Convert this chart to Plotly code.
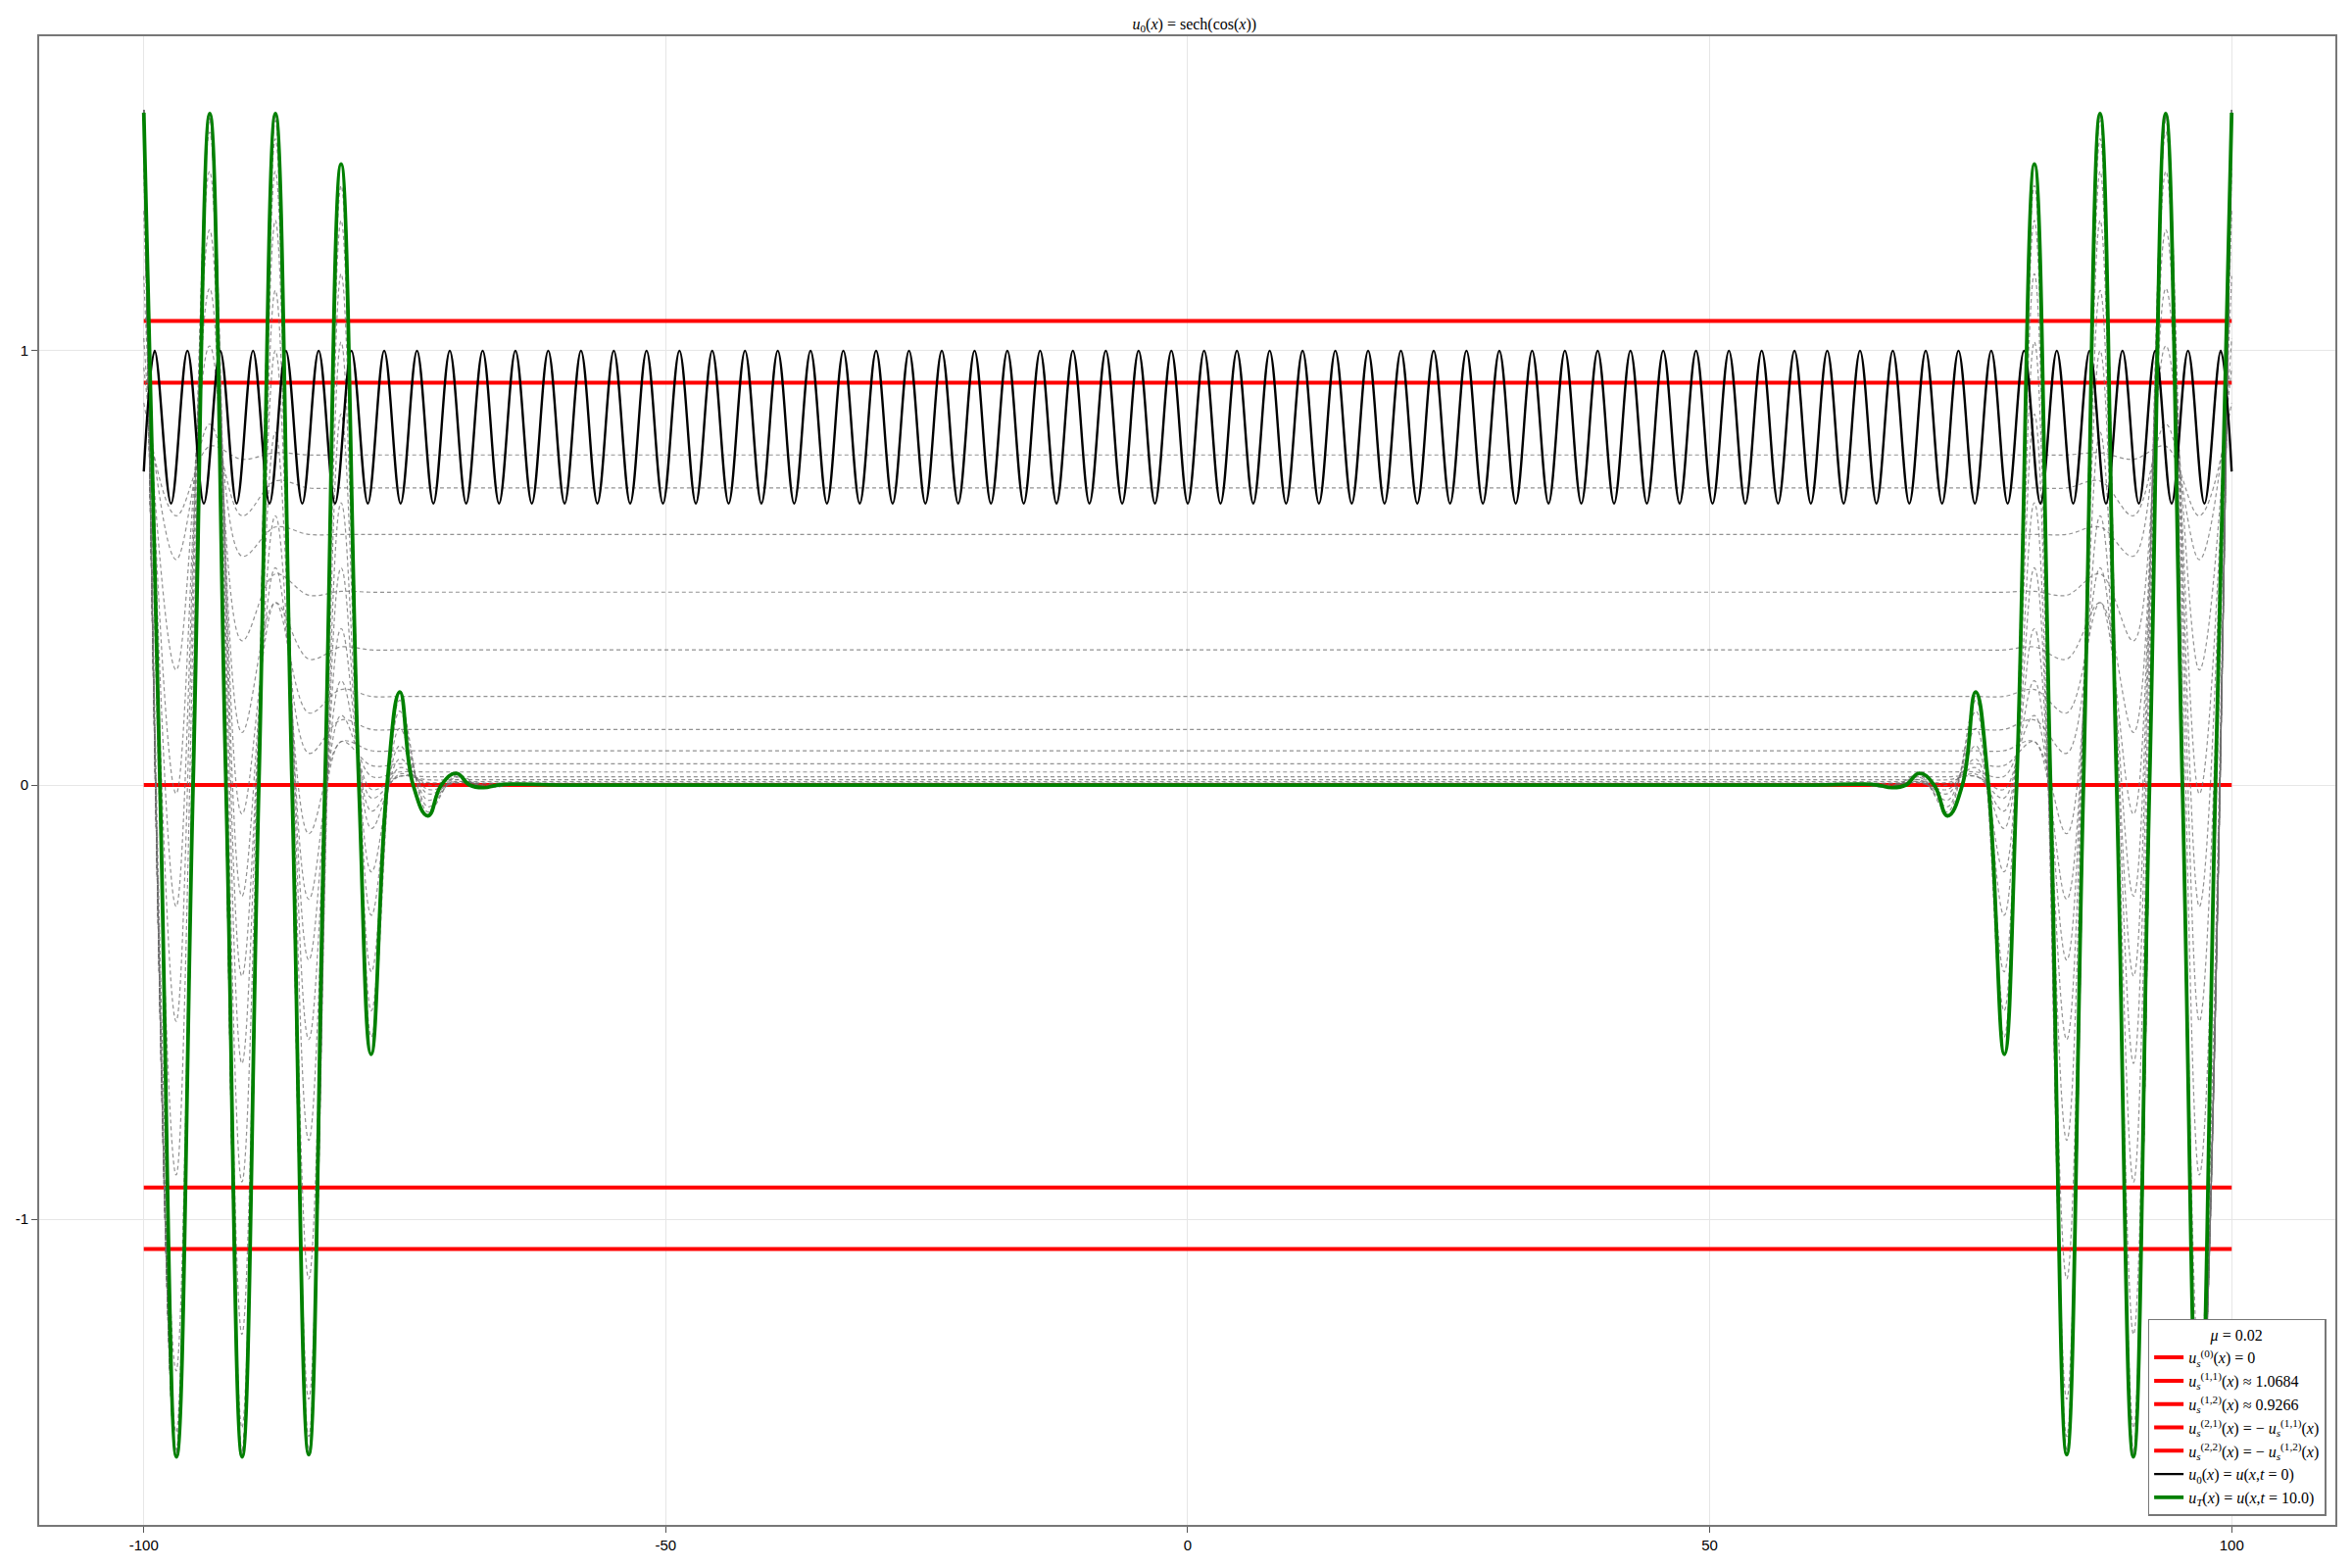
import plotly.graph_objects as go

# ---------------- data ----------------
# red steady states
red_levels = [0.0, 1.0684, 0.9266, -1.0684, -0.9266]
red_x = [-100, 100]
red_names = [
    "<i>u</i><sub><i>s</i></sub><sup>(0)</sup>(<i>x</i>) = 0",
    "<i>u</i><sub><i>s</i></sub><sup>(1,1)</sup>(<i>x</i>) ≈ 1.0684",
    "<i>u</i><sub><i>s</i></sub><sup>(1,2)</sup>(<i>x</i>) ≈ 0.9266",
    "<i>u</i><sub><i>s</i></sub><sup>(2,1)</sup>(<i>x</i>) = − <i>u</i><sub><i>s</i></sub><sup>(1,1)</sup>(<i>x</i>)",
    "<i>u</i><sub><i>s</i></sub><sup>(2,2)</sup>(<i>x</i>) = − <i>u</i><sub><i>s</i></sub><sup>(1,2)</sup>(<i>x</i>)",
]

# initial condition u0 (extrema)
black_x = [-100,
    -98.96, -97.39, -95.82, -94.25, -92.68, -91.11, -89.54, -87.96, -86.39, -84.82,
    -83.25, -81.68, -80.11, -78.54, -76.97, -75.40, -73.83, -72.26, -70.69, -69.12,
    -67.54, -65.97, -64.40, -62.83, -61.26, -59.69, -58.12, -56.55, -54.98, -53.41,
    -51.84, -50.27, -48.69, -47.12, -45.55, -43.98, -42.41, -40.84, -39.27, -37.70,
    -36.13, -34.56, -32.99, -31.42, -29.85, -28.27, -26.70, -25.13, -23.56, -21.99,
    -20.42, -18.85, -17.28, -15.71, -14.14, -12.57, -11.00, -9.42, -7.85, -6.28,
    -4.71, -3.14, -1.57, 0.0,
    1.57, 3.14, 4.71, 6.28, 7.85, 9.42, 11.00, 12.57, 14.14, 15.71,
    17.28, 18.85, 20.42, 21.99, 23.56, 25.13, 26.70, 28.27, 29.85, 31.42,
    32.99, 34.56, 36.13, 37.70, 39.27, 40.84, 42.41, 43.98, 45.55, 47.12,
    48.69, 50.27, 51.84, 53.41, 54.98, 56.55, 58.12, 59.69, 61.26, 62.83,
    64.40, 65.97, 67.54, 69.12, 70.69, 72.26, 73.83, 75.40, 76.97, 78.54,
    80.11, 81.68, 83.25, 84.82, 86.39, 87.96, 89.54, 91.11, 92.68, 94.25,
    95.82, 97.39, 98.96,
    100]
black_y = [0.722,
    1.0, 0.648, 1.0, 0.648, 1.0, 0.648, 1.0, 0.648, 1.0, 0.648,
    1.0, 0.648, 1.0, 0.648, 1.0, 0.648, 1.0, 0.648, 1.0, 0.648,
    1.0, 0.648, 1.0, 0.648, 1.0, 0.648, 1.0, 0.648, 1.0, 0.648,
    1.0, 0.648, 1.0, 0.648, 1.0, 0.648, 1.0, 0.648, 1.0, 0.648,
    1.0, 0.648, 1.0, 0.648, 1.0, 0.648, 1.0, 0.648, 1.0, 0.648,
    1.0, 0.648, 1.0, 0.648, 1.0, 0.648, 1.0, 0.648, 1.0, 0.648,
    1.0, 0.648, 1.0, 0.648,
    1.0, 0.648, 1.0, 0.648, 1.0, 0.648, 1.0, 0.648, 1.0, 0.648,
    1.0, 0.648, 1.0, 0.648, 1.0, 0.648, 1.0, 0.648, 1.0, 0.648,
    1.0, 0.648, 1.0, 0.648, 1.0, 0.648, 1.0, 0.648, 1.0, 0.648,
    1.0, 0.648, 1.0, 0.648, 1.0, 0.648, 1.0, 0.648, 1.0, 0.648,
    1.0, 0.648, 1.0, 0.648, 1.0, 0.648, 1.0, 0.648, 1.0, 0.648,
    1.0, 0.648, 1.0, 0.648, 1.0, 0.648, 1.0, 0.648, 1.0, 0.648,
    1.0, 0.648, 1.0,
    0.722]

# final state u_T (left half; the profile is mirror-symmetric)
green_x_left = [-100, -98.45, -96.87, -95.28, -93.68, -92.13, -90.58, -88.98, -87.39,
                -85.8, -84.2, -82.65, -81.1, -79.4, -78.22, -76.7, -75.47, -74.2,
                -72.78, -71.5, -70.06, -68.8, -67.46, -66.1, -64.5, -60, -40, -20, 0]
green_y_left = [1.548, 0, -1.547, 0, 1.546, 0, -1.547, 0, 1.546,
                0, -1.542, 0, 1.43, 0, -0.62, 0, 0.214, 0,
                -0.071, 0, 0.027, 0, -0.006, 0, 0.002, 0, 0, 0, 0]

# intermediate snapshots (left half knots, shared x)
gray_x_left = [-100, -96.9, -93.7, -90.6, -87.4, -84.2, -81.1, -78.2, -75.5,
               -72.8, -70.1, -67.5, -64.5, -60, -30, 0]
gray_01 = [0.88, 0.62, 0.78, 0.75, 0.765, 0.76, 0.76, 0.76, 0.76, 0.76, 0.76, 0.76, 0.76, 0.76, 0.76, 0.76]
gray_02 = [0.961, 0.519, 0.831, 0.62, 0.70, 0.684, 0.684, 0.684, 0.684, 0.684, 0.684, 0.684, 0.684, 0.684, 0.684, 0.684]
gray_03 = [1.029, 0.265, 1.011, 0.527, 0.594, 0.577, 0.577, 0.577, 0.577, 0.577, 0.577, 0.577, 0.577, 0.577, 0.577, 0.577]
gray_04 = [1.172, -0.02, 1.143, 0.332, 0.486, 0.437, 0.446, 0.444, 0.444, 0.444, 0.444, 0.444, 0.444, 0.444, 0.444, 0.444]
gray_05 = [1.322, -0.28, 1.278, 0.121, 0.42, 0.29, 0.318, 0.311, 0.311, 0.311, 0.311, 0.311, 0.311, 0.311, 0.311, 0.311]
gray_06 = [1.42, -0.544, 1.413, -0.067, 0.42, 0.166, 0.22, 0.204, 0.204, 0.204, 0.204, 0.204, 0.204, 0.204, 0.204, 0.204]
gray_07 = [1.488, -0.898, 1.503, -0.256, 0.50, 0.073, 0.15, 0.128, 0.128, 0.128, 0.128, 0.128, 0.128, 0.128, 0.128, 0.128]
gray_08 = [1.53, -1.349, 1.53, -0.44, 0.62, -0.112, 0.10, 0.079, 0.079, 0.079, 0.079, 0.079, 0.079, 0.079, 0.079, 0.079]
gray_09 = [1.555, -1.49, 1.546, -0.641, 0.812, -0.263, 0.10, 0.045, 0.049, 0.049, 0.049, 0.049, 0.049, 0.049, 0.049, 0.049]
gray_10 = [1.555, -1.53, 1.546, -0.914, 1.0, -0.403, 0.16, 0.02, 0.03, 0.03, 0.03, 0.03, 0.03, 0.03, 0.03, 0.03]
gray_11 = [1.555, -1.545, 1.546, -1.265, 1.139, -0.586, 0.24, -0.01, 0.02, 0.019, 0.019, 0.019, 0.019, 0.019, 0.019, 0.019]
gray_12 = [1.555, -1.545, 1.546, -1.48, 1.30, -0.818, 0.36, -0.03, 0.02, 0.012, 0.012, 0.012, 0.012, 0.012, 0.012, 0.012]
gray_13 = [1.555, -1.545, 1.546, -1.53, 1.413, -1.137, 0.50, -0.06, 0.025, 0.006, 0.0075, 0.0075, 0.0075, 0.0075, 0.0075, 0.0075]
gray_14 = [1.555, -1.547, 1.546, -1.545, 1.488, -1.414, 0.65, -0.10, 0.04, 0.0, 0.005, 0.0046, 0.0046, 0.0046, 0.0046, 0.0046]
gray_15 = [1.555, -1.547, 1.546, -1.547, 1.53, -1.50, 0.854, -0.20, 0.06, -0.01, 0.005, 0.0029, 0.0029, 0.0029, 0.0029, 0.0029]
gray_16 = [1.552, -1.547, 1.546, -1.547, 1.546, -1.53, 1.02, -0.30, 0.09, -0.02, 0.008, 0.0, 0.0018, 0.0018, 0.0018, 0.0018]
gray_17 = [1.55, -1.547, 1.546, -1.547, 1.546, -1.54, 1.177, -0.43, 0.13, -0.035, 0.012, -0.002, 0.0011, 0.0011, 0.0011, 0.0011]
gray_18 = [1.55, -1.547, 1.546, -1.547, 1.546, -1.542, 1.30, -0.52, 0.17, -0.05, 0.018, -0.004, 0.0007, 0.0007, 0.0007, 0.0007]
gray_19 = [1.549, -1.547, 1.546, -1.547, 1.546, -1.542, 1.38, -0.58, 0.195, -0.062, 0.023, -0.005, 0.0004, 0.0004, 0.0004, 0.0004]
gray_curves = [gray_01, gray_02, gray_03, gray_04, gray_05, gray_06, gray_07, gray_08, gray_09,
               gray_10, gray_11, gray_12, gray_13, gray_14, gray_15, gray_16, gray_17, gray_18, gray_19]

x_ticks = [-100, -50, 0, 50, 100]
x_tick_text = ["-100", "-50", "0", "50", "100"]
y_ticks = [-1, 0, 1]
y_tick_text = ["-1", "0", "1"]


def mirror(xl, yl):
    """Extend a left-half profile (ending at x=0) to the full symmetric domain."""
    xr = [-v for v in reversed(xl[:-1])]
    yr = list(reversed(yl[:-1]))
    return list(xl) + xr, list(yl) + yr


SERIF = "Liberation Serif"
SANS = "Liberation Sans"

fig = go.Figure()

for lvl, name in zip(red_levels, red_names):
    fig.add_trace(go.Scatter(x=red_x, y=[lvl, lvl], mode="lines", name=name,
                             line=dict(color="#ff0000", width=4)))

for gy in gray_curves:
    fx, fy = mirror(gray_x_left, gy)
    fig.add_trace(go.Scatter(x=fx, y=fy, mode="lines", showlegend=False, hoverinfo="skip",
                             line=dict(color="rgba(110,110,110,0.75)", width=1.2,
                                       dash="4px,3px", shape="spline", smoothing=1.0)))

fig.add_trace(go.Scatter(x=black_x, y=black_y, mode="lines",
                         name="<i>u</i><sub>0</sub>(<i>x</i>) = <i>u</i>(<i>x</i>,<i>t</i> = 0)",
                         line=dict(color="black", width=2.4, shape="spline", smoothing=1.0)))

gx, gy = mirror(green_x_left, green_y_left)
fig.add_trace(go.Scatter(x=gx, y=gy, mode="lines",
                         name="<i>u</i><sub><i>T</i></sub>(<i>x</i>) = <i>u</i>(<i>x</i>,<i>t</i> = 10.0)",
                         line=dict(color="#008000", width=3.8, shape="spline", smoothing=1.3)))

axis_common = dict(showgrid=True, gridcolor="#e6e6e6", gridwidth=1, zeroline=False,
                   showline=True, linecolor="#777777", linewidth=2, mirror=True,
                   ticks="outside", ticklen=6, tickwidth=1, tickcolor="#555555",
                   automargin=False,
                   tickfont=dict(family=SANS, size=15, color="black"))

# the page body adds an 8px offset, so margins are set to land the frame where the reference has it
fig.update_layout(
    width=2400, height=1600,
    margin=dict(l=32, r=25, t=29, b=52),
    paper_bgcolor="white", plot_bgcolor="white",
    font=dict(family=SANS, size=15, color="black"),
    title=dict(text="<i>u</i><sub>0</sub>(<i>x</i>) = sech(cos(<i>x</i>))",
               x=0.5045, xanchor="center", y=1 - 16 / 1600, yanchor="middle",
               yref="container", font=dict(family=SERIF, size=16, color="black")),
    xaxis=dict(range=[-110.02, 109.93], tickvals=x_ticks, ticktext=x_tick_text, **axis_common),
    yaxis=dict(range=[-1.7035, 1.724], tickvals=y_ticks, ticktext=y_tick_text, **axis_common),
    legend=dict(x=0.996, y=0.006, xanchor="right", yanchor="bottom",
                bgcolor="white", bordercolor="#777777", borderwidth=1.5,
                font=dict(family=SERIF, size=16, color="black"),
                title=dict(text="<i>μ</i> = 0.02", side="top center",
                           font=dict(family=SERIF, size=16, color="black")),
                tracegroupgap=0, itemwidth=30),
)

fig.write_html("out.html")
